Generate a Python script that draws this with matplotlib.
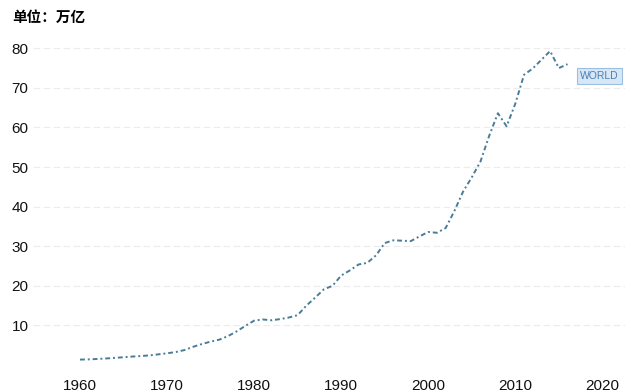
import matplotlib
matplotlib.use("Agg")
import matplotlib.pyplot as plt

# 世界 GDP（万亿美元）
years = list(range(1960, 2017))
gdp = [1.37, 1.42, 1.53, 1.65, 1.80, 1.96, 2.13, 2.26, 2.44, 2.69,
       2.96, 3.27, 3.78, 4.60, 5.30, 5.90, 6.40, 7.30, 8.50, 9.90,
       11.2, 11.5, 11.3, 11.6, 12.0, 12.6, 15.0, 17.0, 19.1, 20.0,
       22.6, 23.9, 25.4, 25.8, 27.7, 30.8, 31.5, 31.4, 31.3, 32.5,
       33.6, 33.4, 34.6, 38.9, 43.8, 47.4, 51.4, 57.9, 63.6, 60.3,
       66.0, 73.3, 74.9, 77.1, 79.3, 75.0, 76.0]
xticks = [1960, 1970, 1980, 1990, 2000, 2010, 2020]
yticks = [10, 20, 30, 40, 50, 60, 70, 80]
series_name = "WORLD"
unit_label = "单位：万亿"

plt.rcParams['font.family'] = ['Liberation Sans', 'Noto Sans CJK SC', 'DejaVu Sans']

fig = plt.figure(figsize=(6.4, 3.92), dpi=100)
ax = fig.add_axes([33 / 640, 1 - 365 / 392, (625 - 33) / 640, (365 - 40) / 392])

ax.plot(years, gdp, color='#4a7c98', lw=1.4,
        linestyle=(0, (2.5, 1.5, 1, 1.5)))

ax.set_xlim(1954.6, 2022.6)
ax.set_ylim(0, 82.1)
ax.set_xticks(xticks)
ax.set_yticks(yticks)
ax.grid(axis='y', color='#ececec', lw=0.8, linestyle=(0, (6, 3)))
ax.grid(axis='x', visible=False)
for s in ax.spines.values():
    s.set_visible(False)
ax.tick_params(length=0, labelsize=11, colors='#111111')
ax.tick_params(axis='x', pad=10)
for lab in ax.get_yticklabels():
    lab.set_horizontalalignment('left')
ax.yaxis.set_tick_params(pad=15.5)

ax.text(2019.7, 73, series_name, fontsize=7.5, color='#4a7fb5',
        ha='center', va='center',
        bbox=dict(boxstyle='square,pad=0.3', fc='#d8e7f6', ec='#9bbfe0', lw=0.8))

fig.text(12 / 640, 1 - 17 / 392, unit_label, fontsize=10.5, fontweight='bold',
         family=['Noto Sans CJK SC', 'DejaVu Sans'], va='center', ha='left')

fig.savefig('out.png', dpi=100, facecolor='white')
